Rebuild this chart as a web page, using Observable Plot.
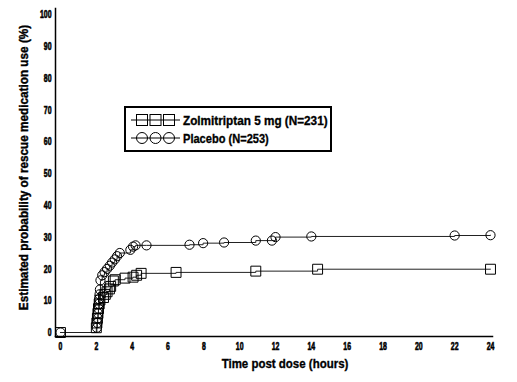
<!DOCTYPE html>
<html>
<head>
<meta charset="utf-8">
<script src="https://cdn.jsdelivr.net/npm/d3@7"></script>
<script src="https://cdn.jsdelivr.net/npm/@observablehq/plot@0.6"></script>
<style>
  html, body { margin: 0; padding: 0; background: #fff; }
  #wrap { position: relative; width: 517px; height: 382px; font-family: "Liberation Sans", Arial, sans-serif; font-weight: bold; }
  #legend { position: absolute; left: 124px; top: 106px; width: 204px; height: 42px; border: 2px solid #000; background: #fff; }
  #legend svg { display: block; overflow: visible; }
</style>
</head>
<body>
<div id="wrap"><div id="legend"></div></div>
<script>
const seriesNames = ["Zolmitriptan 5 mg (N=231)", "Placebo (N=253)"];
const zolTime = [0, 2.0, 2.03, 2.06, 2.09, 2.12, 2.16, 2.2, 2.4, 2.5, 2.6, 2.73, 2.8, 2.95, 3.05, 3.6, 4.05, 4.25, 4.5, 6.45, 10.9, 14.35, 24];
const zolProb = [0, 1.5, 3, 4.5, 6, 7.5, 9, 10.2, 11, 12, 12.8, 13.7, 14.5, 16.2, 16.6, 17.1, 17.4, 18, 18.6, 18.9, 19.3, 19.9, 19.9];
const plaTime = [0, 2.03, 2.06, 2.08, 2.1, 2.12, 2.14, 2.16, 2.18, 2.2, 2.23, 2.33, 2.46, 2.6, 2.75, 2.88, 3.03, 3.16, 3.31, 3.9, 4.05, 4.19, 4.8, 7.2, 7.96, 9.13, 10.9, 11.8, 12.0, 14.0, 22.0, 24.0];
const plaProb = [0, 1.5, 3, 4.5, 6, 7.5, 9, 10.5, 12, 13.5, 16.4, 18, 19, 20, 21, 22, 23, 24, 25, 26, 27, 27.4, 27.4, 27.6, 28.1, 28.3, 28.9, 28.9, 30, 30.2, 30.5, 30.6];
const xTicks = [0, 2, 4, 6, 8, 10, 12, 14, 16, 18, 20, 22, 24];
const yTicks = [0, 10, 20, 30, 40, 50, 60, 70, 80, 90, 100];
const xLabel = "Time post dose (hours)";
const yLabel = "Estimated probability of rescue medication use (%)";

const zol = zolTime.map((t, i) => ({t, p: zolProb[i]}));
const pla = plaTime.map((t, i) => ({t, p: plaProb[i]}));
const font = '"Liberation Sans", Arial, sans-serif';

const chart = Plot.plot({
  width: 517, height: 382,
  marginLeft: 55, marginRight: 25, marginTop: 8, marginBottom: 46,
  style: {fontFamily: font, fontWeight: "bold", fontSize: "11.5px", color: "#000", background: "#fff"},
  x: {domain: [0, 24], insetLeft: 5, insetRight: 2, ticks: xTicks, label: null},
  y: {domain: [0, 100], insetTop: 6, insetBottom: 4, ticks: yTicks, label: null},
  marks: [
    Plot.axisX({ticks: xTicks, tickSize: 0, tickPadding: 5, fontSize: 11.5, fontWeight: "bold"}),
    Plot.axisY({ticks: yTicks, tickSize: 0, tickPadding: 4, fontSize: 11.5, fontWeight: "bold"}),
    Plot.axisX({ticks: [], tickSize: 0, label: xLabel, labelAnchor: "center", labelArrow: "none", labelOffset: 31, fontSize: 13.5}),
    Plot.axisY({ticks: [], tickSize: 0, label: yLabel, labelAnchor: "center", labelArrow: "none", labelOffset: 36, fontSize: 12.5}),
    Plot.frame({anchor: "left", stroke: "#000", strokeWidth: 1.5}),
    Plot.frame({anchor: "bottom", stroke: "#000", strokeWidth: 1.5}),
    Plot.line(zol, {x: "t", y: "p", stroke: "#222", strokeWidth: 1, curve: "step-after"}),
    Plot.line(pla, {x: "t", y: "p", stroke: "#222", strokeWidth: 1, curve: "step-after"}),
    Plot.dot(zol, {x: "t", y: "p", symbol: "square", r: 5.6, stroke: "#000", strokeWidth: 1, fill: "none"}),
    Plot.dot(pla, {x: "t", y: "p", symbol: "circle", r: 4.6, stroke: "#000", strokeWidth: 1, fill: "none"})
  ]
});
document.getElementById("wrap").insertBefore(chart, document.getElementById("legend"));

// condense text (reference uses a heavy bold condensed face)
function squeeze(node, factor, sw) {
  const len = node.getComputedTextLength();
  if (len > 0) {
    node.setAttribute("textLength", (len * factor).toFixed(1));
    node.setAttribute("lengthAdjust", "spacingAndGlyphs");
  }
  node.style.stroke = "#000";
  node.style.strokeWidth = sw + "px";
}
d3.select(chart).selectAll("text").each(function() {
  const s = this.textContent;
  if (s === xLabel) { squeeze(this, 0.85, 0.35); this.setAttribute("dx", "11"); }
  else if (s === yLabel) { squeeze(this, 0.94, 0.4); this.setAttribute("dx", "5"); }
  else squeeze(this, 0.6, 0.65);
});

// legend
const legendSqueeze = [0.87, 0.82];
const lg = d3.select("#legend").append("svg").attr("width", 204).attr("height", 42)
  .style("font-family", font).style("font-weight", "bold").style("font-size", "13.5px");
seriesNames.forEach((name, i) => {
  const cy = i === 0 ? 12 : 30;
  const g = lg.append("g");
  g.append("line").attr("x1", 5).attr("x2", 54).attr("y1", cy).attr("y2", cy).attr("stroke", "#000");
  [16, 29.5, 43].forEach(cx => {
    if (i === 0) g.append("rect").attr("x", cx - 5.5).attr("y", cy - 5.5).attr("width", 11).attr("height", 11).attr("fill", "none").attr("stroke", "#000");
    else g.append("circle").attr("cx", cx).attr("cy", cy).attr("r", 5.5).attr("fill", "none").attr("stroke", "#000");
  });
  const t = g.append("text").attr("x", 57).attr("y", cy).attr("dy", "0.36em").text(name);
  const node = t.node();
  t.attr("textLength", (node.getComputedTextLength() * legendSqueeze[i]).toFixed(1)).attr("lengthAdjust", "spacingAndGlyphs")
   .style("stroke", "#000").style("stroke-width", "0.35px");
});
</script>
</body>
</html>
